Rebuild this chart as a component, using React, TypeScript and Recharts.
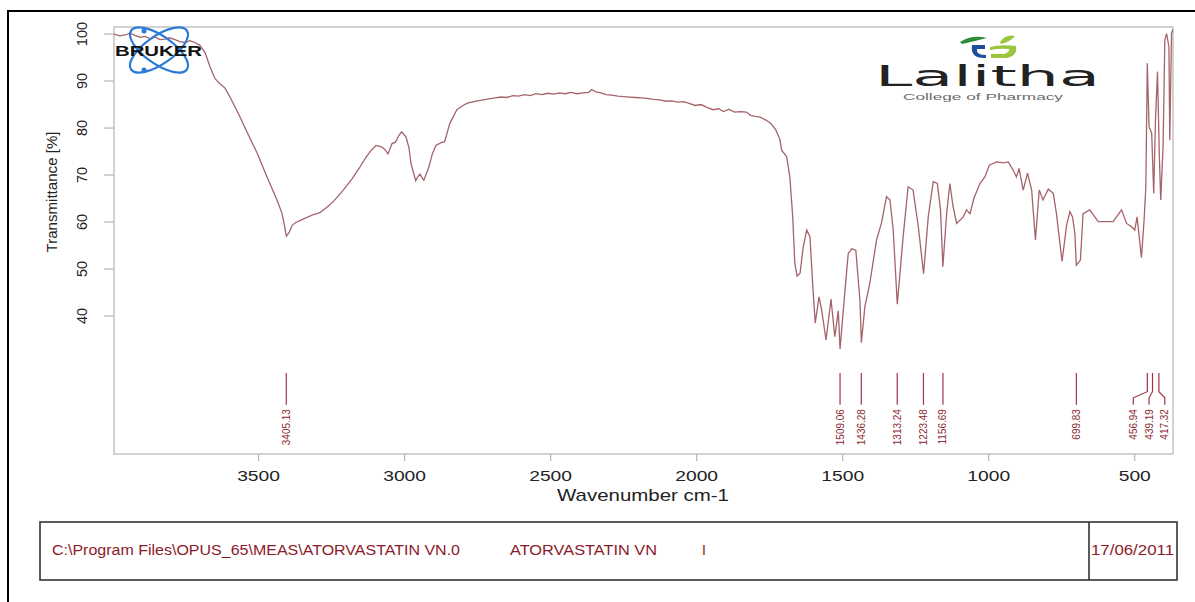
import React from "react";
import { ComposedChart, Line, Scatter, XAxis, YAxis, ReferenceArea } from "recharts";

// FT-IR spectrum of atorvastatin
const wavenumbers = [
  3995, 3975, 3957, 3940, 3923, 3905, 3889, 3870, 3855, 3838, 3820, 3805, 3786, 3770, 3752, 3735,
  3718, 3701, 3683, 3666, 3649, 3632, 3615, 3598, 3570, 3540, 3505, 3471, 3437, 3420, 3412, 3405,
  3395, 3385, 3373, 3355, 3338, 3315, 3290, 3265, 3242, 3210, 3180, 3155, 3132, 3115, 3098, 3079,
  3067, 3057, 3043, 3031, 3020, 3010, 2995, 2985, 2978, 2962, 2955, 2947, 2940, 2934, 2917, 2905,
  2893, 2875, 2863, 2845, 2821, 2800, 2785, 2750, 2712, 2690, 2670, 2650, 2629, 2610, 2590, 2570,
  2550, 2530, 2509, 2490, 2470, 2450, 2430, 2410, 2389, 2370, 2359, 2345, 2328, 2310, 2290, 2270,
  2250, 2230, 2210, 2190, 2170, 2148, 2125, 2105, 2085, 2065, 2045, 2028, 2005, 1985, 1965, 1944,
  1925, 1908, 1890, 1870, 1849, 1830, 1815, 1800, 1783, 1763, 1745, 1729, 1715, 1709, 1692, 1681,
  1671, 1664, 1656, 1646, 1635, 1623, 1612, 1603, 1594, 1581, 1572, 1557, 1540, 1527, 1515, 1509,
  1492, 1481, 1469, 1455, 1441, 1436, 1424, 1407, 1384, 1367, 1350, 1338, 1327, 1313, 1293, 1276,
  1259, 1241, 1223, 1207, 1190, 1176, 1165, 1157, 1144, 1133, 1122, 1110, 1087, 1076, 1064, 1051,
  1030, 1013, 998, 973, 950, 933, 916, 905, 896, 882, 867, 853, 840, 827, 814, 796,
  779, 768, 749, 733, 722, 713, 705, 700, 686, 677, 654, 625, 597, 574, 545, 528,
  511, 500, 492, 477, 468, 462, 457, 451, 442, 435, 429, 422, 416, 411, 403, 397,
  391, 383, 380, 374, 369,
];

const transmittance = [
  100.0, 99.6, 99.8, 100.2, 99.7, 99.3, 99.5, 99.0, 99.4, 98.8, 98.9, 99.2, 98.8, 98.4, 98.2, 98.6,
  98.2, 97.6, 96.0, 93.0, 90.5, 89.4, 88.5, 86.6, 83.2, 79.2, 74.7, 69.6, 64.7, 61.9, 59.5, 57.0,
  57.8, 59.3, 59.9, 60.4, 60.9, 61.5, 62.0, 63.2, 64.5, 66.8, 69.2, 71.5, 73.8, 75.2, 76.3, 76.0,
  75.4, 74.5, 76.7, 77.0, 78.4, 79.2, 78.1, 75.8, 72.4, 68.8, 69.6, 70.2, 69.4, 68.9, 71.7, 74.5,
  76.3, 76.9, 77.1, 81.0, 83.9, 84.8, 85.3, 85.8, 86.2, 86.4, 86.6, 86.5, 86.9, 86.8, 87.1, 86.9,
  87.3, 87.1, 87.4, 87.2, 87.5, 87.3, 87.6, 87.3, 87.5, 87.6, 88.2, 87.7, 87.5, 87.1, 87.0, 86.8,
  86.7, 86.6, 86.5, 86.4, 86.3, 86.1, 86.0, 85.7, 85.8, 85.5, 85.6, 85.3, 84.8, 85.0, 84.4, 83.9,
  84.1, 83.5, 84.0, 83.4, 83.5, 83.4, 82.7, 82.5, 82.3, 81.7, 80.9, 79.6, 77.6, 75.3, 73.9, 69.6,
  61.1, 51.3, 48.5, 49.1, 54.7, 58.3, 56.9, 47.0, 38.5, 44.1, 41.3, 34.9, 43.6, 35.6, 41.1, 33.0,
  45.5, 53.3, 54.3, 54.0, 43.4, 34.3, 42.0, 47.0, 56.2, 59.8, 65.4, 64.7, 58.3, 42.5, 56.9, 67.5,
  66.8, 59.0, 49.0, 61.1, 68.6, 68.2, 62.6, 50.5, 61.8, 68.2, 63.3, 59.7, 61.1, 62.6, 61.8, 65.0,
  68.2, 69.6, 72.1, 72.8, 72.6, 72.8, 71.0, 69.6, 71.4, 66.8, 70.4, 66.8, 56.2, 66.8, 64.7, 67.0,
  66.1, 61.8, 51.6, 59.4, 62.2, 61.1, 57.6, 50.8, 51.9, 61.8, 62.6, 60.1, 60.1, 60.1, 62.6, 59.7,
  59.0, 58.3, 61.1, 52.4, 60.4, 67.5, 93.8, 80.3, 78.9, 66.1, 81.7, 92.0, 74.6, 64.7, 76.0, 98.7,
  100.1, 97.3, 77.4, 100.2, 101.0,
];

const peakWavenumbers = [3405.13, 1509.06, 1436.28, 1313.24, 1223.48, 1156.69, 699.83, 456.94, 439.19, 417.32];
const peakLabels = ["3405.13", "1509.06", "1436.28", "1313.24", "1223.48", "1156.69", "699.83", "456.94", "439.19", "417.32"];

const xTicks = [3500, 3000, 2500, 2000, 1500, 1000, 500];
const yTicks = [40, 50, 60, 70, 80, 90, 100];

const footerPath = "C:\\Program Files\\OPUS_65\\MEAS\\ATORVASTATIN VN.0";
const footerSample = "ATORVASTATIN VN";
const footerFlag = "I";
const footerDate = "17/06/2011";

const FONT = "'Liberation Sans', Arial, sans-serif";
const X_DOMAIN: [number, number] = [369, 3995];
const Y_DOMAIN: [number, number] = [10.64, 101.5];

// where the peak marker strokes sit, in transmittance units
const MARK_TOP = 27.9;
const KNEE_TOP = 23.9;
const KNEE_BOTTOM = 22.6;
const MARK_BOTTOM = 21.1;
const TEXT_AT = 20.2;

const spectrum = wavenumbers.map((w, i) => ({ w, t: transmittance[i] }));

// push crowded labels apart (peaks are sorted high -> low wavenumber)
function spreadLabels(peaks: number[], gap: number, rightLimit: number) {
  const out = [...peaks];
  let i = 0;
  while (i < peaks.length) {
    let j = i;
    while (j + 1 < peaks.length && peaks[j] - peaks[j + 1] < gap) j++;
    if (j > i) {
      const n = j - i + 1;
      const mean = peaks.slice(i, j + 1).reduce((a, b) => a + b, 0) / n;
      let start = mean + (gap * (n - 1)) / 2;
      const last = start - gap * (n - 1);
      if (last < rightLimit) start += rightLimit - last;
      for (let k = 0; k < n; k++) out[i + k] = start - gap * k;
    }
    i = j + 1;
  }
  return out;
}

const labelPositions = spreadLabels(peakWavenumbers, 54, 397);

const markers = peakWavenumbers.map((p, i) => {
  const lx = labelPositions[i];
  if (Math.abs(lx - p) < 0.5) {
    return [{ w: p, t: MARK_TOP }, { w: p, t: MARK_BOTTOM }];
  }
  return [
    { w: p, t: MARK_TOP },
    { w: p, t: KNEE_TOP },
    { w: lx, t: KNEE_BOTTOM },
    { w: lx, t: MARK_BOTTOM },
  ];
});

const labelData = peakLabels.map((label, i) => ({ w: labelPositions[i], t: TEXT_AT, label }));

const XTick = ({ x, y, payload }: any) => {
  const s = String(payload.value);
  return (
    <text
      x={x}
      y={y + 20}
      textAnchor="middle"
      fontSize={15.5}
      fontFamily={FONT}
      fill="#222"
      textLength={s.length * 10.7}
      lengthAdjust="spacingAndGlyphs"
    >
      {s}
    </text>
  );
};

const YTick = ({ x, y, payload }: any) => (
  <text
    transform={`translate(${x - 17},${y}) rotate(-90)`}
    textAnchor="middle"
    fontSize={14.5}
    fontFamily={FONT}
    fill="#222"
  >
    {payload.value}
  </text>
);

const PeakText = (props: any) => {
  const { cx, cy, payload } = props;
  return (
    <text
      transform={`translate(${cx + 3.5},${cy}) rotate(-90)`}
      textAnchor="end"
      fontSize={10}
      fontFamily={FONT}
      fill="#8b2a35"
    >
      {payload.label}
    </text>
  );
};

function Decorations() {
  return (
    <svg
      width={1195}
      height={602}
      style={{ position: "absolute", left: 0, top: 0, pointerEvents: "none" }}
    >
      <rect x={8} y={11} width={1200} height={600} fill="none" stroke="#000" strokeWidth={2} />

      {/* Bruker logo */}
      <g>
        <ellipse cx={159} cy={50} rx={34} ry={14} transform="rotate(35 159 50)" fill="none" stroke="#2b7bd6" strokeWidth={2.2} />
        <ellipse cx={159} cy={50} rx={34} ry={14} transform="rotate(-35 159 50)" fill="none" stroke="#2b7bd6" strokeWidth={2.2} />
        <circle cx={144} cy={31} r={2.5} fill="#2b7bd6" />
        <circle cx={144} cy={70} r={2.5} fill="#2b7bd6" />
        <text x={115} y={56} fontSize={14} fontWeight="bold" fontFamily={FONT} fill="#111" textLength={87} lengthAdjust="spacingAndGlyphs">
          BRUKER
        </text>
      </g>

      {/* Lalitha logo */}
      <g>
        <path d="M960 42 Q972 34 987 38 Q975 41 962 44 Z" fill="#2e8b3a" />
        <path d="M1000 42 Q1006 34 1015 36 Q1010 42 1001 44 Z" fill="#9bc53d" />
        <path d="M972 45 L985 45 L985 49 L977 49 Q976 55 986 55 L986 58 Q970 59 972 45 Z" fill="#1f4e9c" />
        <path d="M990 47 Q1000 44 1016 46 Q1018 56 1006 58 L991 58 L991 54 L1004 54 Q1010 52 1009 49 Q1000 48 990 50 Z" fill="#9bc53d" />
        <text x={875} y={86} fontSize={29} fontFamily="'DejaVu Sans', sans-serif" fill="#222" textLength={225} lengthAdjust="spacingAndGlyphs">
          Lalitha
        </text>
        <text x={903} y={100} fontSize={8.5} fontFamily={FONT} fill="#6b6b6b" textLength={160} lengthAdjust="spacingAndGlyphs">
          College of Pharmacy
        </text>
      </g>

      {/* axis titles */}
      <text transform="translate(57,192) rotate(-90)" textAnchor="middle" fontSize={15} fontFamily={FONT} fill="#222" textLength={121} lengthAdjust="spacingAndGlyphs">
        Transmittance [%]
      </text>
      <text x={643} y={501} textAnchor="middle" fontSize={17} fontFamily={FONT} fill="#222" textLength={172} lengthAdjust="spacingAndGlyphs">
        Wavenumber cm-1
      </text>

      {/* footer */}
      <rect x={40} y={522} width={1137} height={58} fill="none" stroke="#333" strokeWidth={1.6} />
      <line x1={1089} y1={522} x2={1089} y2={580} stroke="#333" strokeWidth={1.6} />
      <g fontSize={14} fontFamily={FONT} fill="#8b1a2a">
        <text x={52} y={555} textLength={408} lengthAdjust="spacingAndGlyphs">{footerPath}</text>
        <text x={510} y={555} textLength={147} lengthAdjust="spacingAndGlyphs">{footerSample}</text>
        <text x={702} y={555}>{footerFlag}</text>
        <text x={1091} y={555} textLength={83} lengthAdjust="spacingAndGlyphs">{footerDate}</text>
      </g>
    </svg>
  );
}

export default function App() {
  return (
    <div style={{ position: "absolute", left: 0, top: 0, width: 1195, height: 602, background: "#fff" }}>
      <ComposedChart width={1195} height={602} margin={{ top: 27, right: 22, bottom: 108, left: 54 }}>
        <XAxis
          type="number"
          dataKey="w"
          domain={X_DOMAIN}
          reversed
          allowDataOverflow
          ticks={xTicks}
          height={40}
          axisLine={false}
          tickLine={{ stroke: "#b5b5b5", strokeWidth: 1.2 }}
          tickSize={7}
          tickMargin={0}
          tick={XTick}
        />
        <YAxis
          type="number"
          domain={Y_DOMAIN}
          allowDataOverflow
          ticks={yTicks}
          width={60}
          axisLine={false}
          tickLine={{ stroke: "#b5b5b5", strokeWidth: 1.2 }}
          tickSize={10}
          tickMargin={0}
          tick={YTick}
        />
        <ReferenceArea
          x1={X_DOMAIN[1]}
          x2={X_DOMAIN[0]}
          y1={Y_DOMAIN[0]}
          y2={Y_DOMAIN[1]}
          fill="none"
          fillOpacity={0}
          stroke="#c4c4c4"
          strokeWidth={1.5}
        />
        <Line
          data={spectrum}
          dataKey="t"
          type="linear"
          stroke="#a5636a"
          strokeWidth={1.3}
          dot={false}
          activeDot={false}
          isAnimationActive={false}
        />
        {markers.map((m, i) => (
          <Line
            key={peakLabels[i]}
            data={m}
            dataKey="t"
            type="linear"
            stroke="#a03545"
            strokeWidth={1.2}
            dot={false}
            activeDot={false}
            isAnimationActive={false}
          />
        ))}
        <Scatter data={labelData} dataKey="t" shape={PeakText} isAnimationActive={false} />
      </ComposedChart>
      <Decorations />
    </div>
  );
}
